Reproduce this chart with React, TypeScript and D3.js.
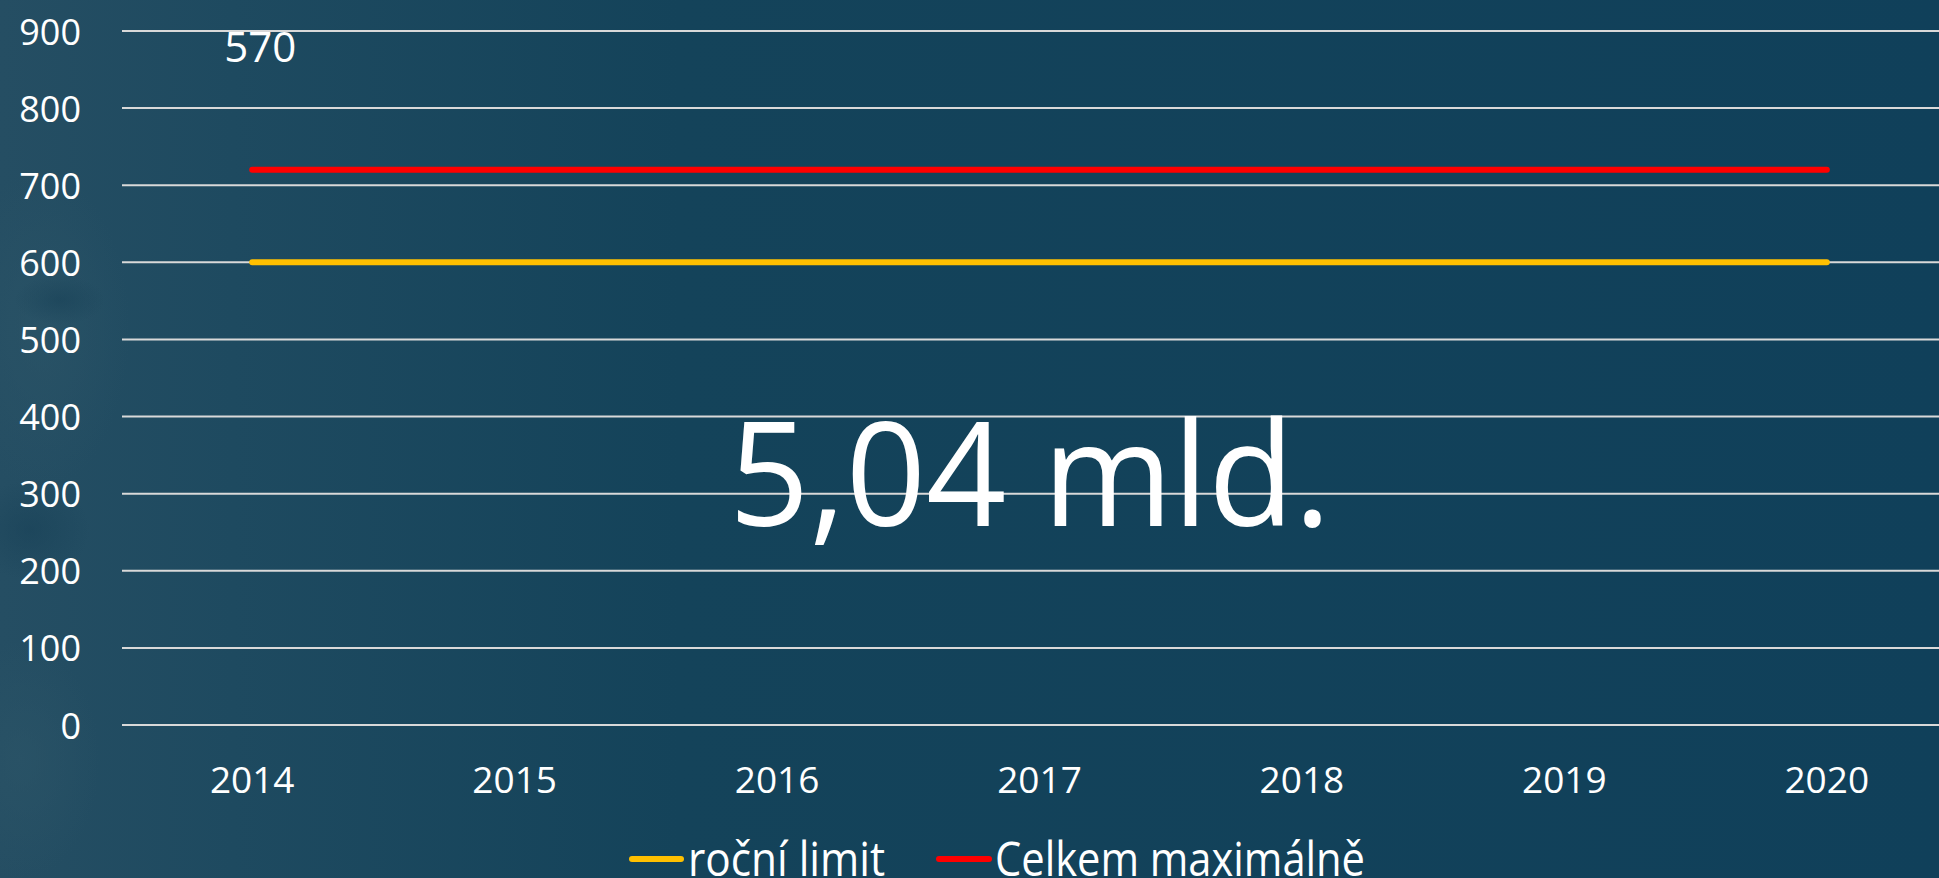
import React from 'react';
import * as d3 from 'd3';

// Data
const years = ['2014', '2015', '2016', '2017', '2018', '2019', '2020'];
const rocniLimit = [600, 600, 600, 600, 600, 600, 600];
const celkemMax = [720, 720, 720, 720, 720, 720, 720];
const yTicks = [0, 100, 200, 300, 400, 500, 600, 700, 800, 900];
const seriesNames = ['roční limit', 'Celkem maximálně'];
const seriesColors = ['#FFC000', '#FF0000'];
const topLabel = '570';
const bigLabel = '5,04 mld.';

const width = 1939;
const height = 878;
const font = '"Open Sans", "Noto Sans", sans-serif';

const App = () => {
  // plot runs a little past the right edge, like the original slide
  const x = d3.scaleBand().domain(years).range([121, 1958]);
  const y = d3.scaleLinear().domain([0, 900]).range([725, 31]);
  const cx = (d) => (x(d) ?? 0) + x.bandwidth() / 2;

  const line = d3
    .line()
    .x((d, i) => cx(years[i]))
    .y((d) => y(d));

  const series = [rocniLimit, celkemMax];

  return (
    <div style={{ position: 'fixed', left: 0, top: 0, width, height, overflow: 'hidden' }}>
      <svg width={width} height={height} style={{ display: 'block' }}>
        <defs>
          <linearGradient id="bg" x1="0" x2="1" y1="0" y2="0">
            <stop offset="0" stopColor="#254e63" />
            <stop offset="0.12" stopColor="#1e4a60" />
            <stop offset="0.35" stopColor="#14435a" />
            <stop offset="1" stopColor="#10405a" />
          </linearGradient>
          <radialGradient id="blot" cx="0.5" cy="0.5" r="0.5">
            <stop offset="0" stopColor="#2b5467" stopOpacity="0.7" />
            <stop offset="1" stopColor="#2b5467" stopOpacity="0" />
          </radialGradient>
          <radialGradient id="dark" cx="0.5" cy="0.5" r="0.5">
            <stop offset="0" stopColor="#163f55" stopOpacity="0.5" />
            <stop offset="1" stopColor="#163f55" stopOpacity="0" />
          </radialGradient>
        </defs>
        <rect width={width} height={height} fill="url(#bg)" />
        <ellipse cx={40} cy={330} rx={90} ry={160} fill="url(#blot)" />
        <ellipse cx={20} cy={760} rx={80} ry={120} fill="url(#blot)" />
        <ellipse cx={60} cy={300} rx={45} ry={25} fill="url(#dark)" />
        <ellipse cx={30} cy={530} rx={60} ry={50} fill="url(#dark)" />

        {/* gridlines */}
        {yTicks.map((t) => (
          <line key={t} x1={122} x2={width} y1={y(t)} y2={y(t)} stroke="#d9d9d9" strokeWidth={2} />
        ))}

        {/* y tick labels */}
        {yTicks.map((t) => (
          <text
            key={'l' + t}
            x={81}
            y={y(t)}
            textAnchor="end"
            dominantBaseline="central"
            fill="#fff"
            fontFamily={font}
            fontSize={36}
          >
            {t}
          </text>
        ))}

        {/* x tick labels */}
        {years.map((yr) => (
          <text key={yr} x={cx(yr)} y={793} textAnchor="middle" fill="#fff" fontFamily={font} fontSize={37}>
            {yr}
          </text>
        ))}

        {/* series */}
        {series.map((s, i) => (
          <path
            key={seriesNames[i]}
            d={line(s) ?? ''}
            fill="none"
            stroke={seriesColors[i]}
            strokeWidth={6}
            strokeLinecap="round"
          />
        ))}

        <text x={cx(years[0]) + 8} y={y(860)} textAnchor="middle" fill="#fff" fontFamily={font} fontSize={42}>
          {topLabel}
        </text>

        <text
          x={729}
          y={526}
          textLength={602}
          lengthAdjust="spacingAndGlyphs"
          fill="#fff"
          fontFamily={font}
          fontSize={144}
        >
          {bigLabel}
        </text>

        {/* legend */}
        <g fontFamily={font} fill="#fff" fontSize={48}>
          <line x1={632} x2={681} y1={859} y2={859} stroke={seriesColors[0]} strokeWidth={6} strokeLinecap="round" />
          <text x={688} y={876} textLength={197} lengthAdjust="spacingAndGlyphs">
            {seriesNames[0]}
          </text>
          <line x1={939} x2={989} y1={859} y2={859} stroke={seriesColors[1]} strokeWidth={6} strokeLinecap="round" />
          <text x={995} y={876} textLength={370} lengthAdjust="spacingAndGlyphs">
            {seriesNames[1]}
          </text>
        </g>
      </svg>
    </div>
  );
};

export default App;
